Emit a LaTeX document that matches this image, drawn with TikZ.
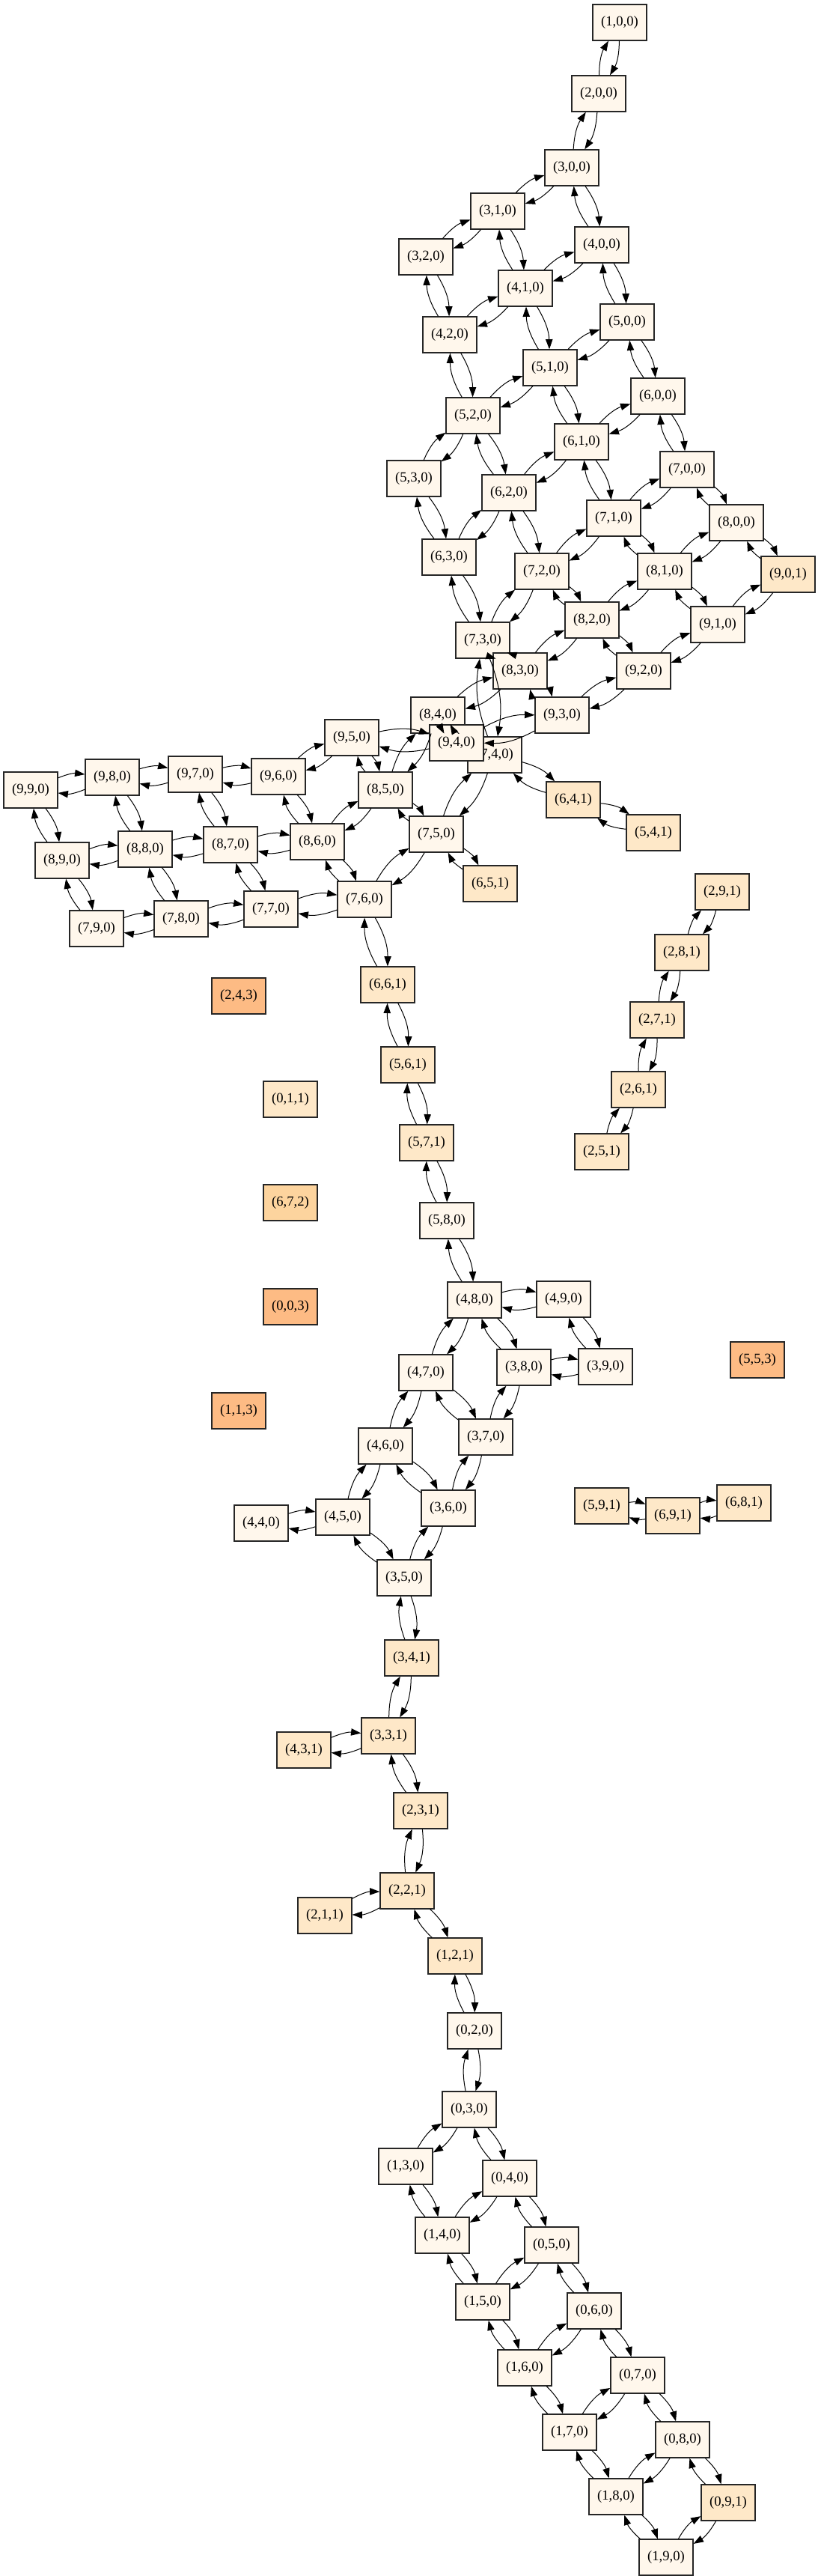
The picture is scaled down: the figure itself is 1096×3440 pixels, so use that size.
\documentclass[tikz,border=0pt]{standalone}
\usepackage{fontspec}
\setmainfont{Liberation Serif}
\usetikzlibrary{arrows.meta}
\definecolor{orA}{HTML}{FFF7EC}
\definecolor{orB}{HTML}{FEE8C8}
\definecolor{orC}{HTML}{FDD49E}
\definecolor{orD}{HTML}{FDBB84}
\tikzset{
  box/.style={draw=black!85, line width=0.9pt, rectangle, minimum width=54pt, minimum height=36pt, inner sep=0pt, font=\fontsize{14pt}{16pt}\selectfont},
  st0/.style={box, fill=orA},
  st1/.style={box, fill=orB},
  st2/.style={box, fill=orC},
  st3/.style={box, fill=orD},
  edge/.style={-{Triangle[length=10pt,width=7pt]}, line width=0.75pt, bend left=15}
}
\newcommand\biedge[2]{\draw[edge] (#1) to (#2); \draw[edge] (#2) to (#1);}
\begin{document}
\begin{tikzpicture}[x=0.75pt,y=-0.75pt]
\useasboundingbox (0,0) rectangle (1096,3440);
% top cluster
\node[st0] (n100) at (828,30) {(1,0,0)};
\node[st0] (n200) at (800,125) {(2,0,0)};
\node[st0] (n300) at (764,224) {(3,0,0)};
\node[st0] (n310) at (665,282) {(3,1,0)};
\node[st0] (n320) at (569,343) {(3,2,0)};
\node[st0] (n400) at (804,327) {(4,0,0)};
\node[st0] (n410) at (702,385) {(4,1,0)};
\node[st0] (n420) at (601,447) {(4,2,0)};
\node[st0] (n500) at (838,430) {(5,0,0)};
\node[st0] (n510) at (735,491) {(5,1,0)};
\node[st0] (n520) at (632,555) {(5,2,0)};
\node[st0] (n600) at (879,529) {(6,0,0)};
\node[st0] (n610) at (777,590) {(6,1,0)};
\node[st0] (n530) at (553,639) {(5,3,0)};
\node[st0] (n620) at (680,658) {(6,2,0)};
\node[st0] (n700) at (918,627) {(7,0,0)};
\node[st0] (n710) at (820,692) {(7,1,0)};
\node[st0] (n800) at (984,698) {(8,0,0)};
\node[st0] (n630) at (600,744) {(6,3,0)};
\node[st0] (n720) at (724,763) {(7,2,0)};
\node[st0] (n810) at (888,763) {(8,1,0)};
\node[st1] (n901) at (1053,767) {(9,0,1)};
\node[st0] (n820) at (791,828) {(8,2,0)};
\node[st0] (n910) at (959,834) {(9,1,0)};
\node[st0] (n730) at (645,855) {(7,3,0)};
\node[st0] (n830) at (695,896) {(8,3,0)};
\node[st0] (n920) at (860,896) {(9,2,0)};
\node[st0] (n930) at (751,955) {(9,3,0)};
\node[st0] (n840) at (585,955) {(8,4,0)};
\node[st0] (n740) at (661,1008) {(7,4,0)};
\node[st0] (n940) at (610,992) {(9,4,0)};
\node[st1] (n641) at (766,1068) {(6,4,1)};
\node[st1] (n541) at (873,1112) {(5,4,1)};
% left cluster
\node[st0] (n950) at (470,985) {(9,5,0)};
\node[st0] (n850) at (515,1055) {(8,5,0)};
\node[st0] (n750) at (583,1114) {(7,5,0)};
\node[st0] (n860) at (424,1124) {(8,6,0)};
\node[st1] (n651) at (655,1180) {(6,5,1)};
\node[st0] (n760) at (487,1201) {(7,6,0)};
\node[st0] (n990) at (41,1055) {(9,9,0)};
\node[st0] (n980) at (150,1038) {(9,8,0)};
\node[st0] (n970) at (261,1034) {(9,7,0)};
\node[st0] (n960) at (372,1037) {(9,6,0)};
\node[st0] (n890) at (83,1149) {(8,9,0)};
\node[st0] (n880) at (194,1134) {(8,8,0)};
\node[st0] (n870) at (308,1128) {(8,7,0)};
\node[st0] (n790) at (129,1240) {(7,9,0)};
\node[st0] (n780) at (242,1227) {(7,8,0)};
\node[st0] (n770) at (362,1214) {(7,7,0)};
% right chain
\node[st1] (n291) at (965,1191) {(2,9,1)};
\node[st1] (n281) at (911,1272) {(2,8,1)};
\node[st1] (n271) at (878,1362) {(2,7,1)};
\node[st1] (n261) at (853,1455) {(2,6,1)};
\node[st1] (n251) at (804,1538) {(2,5,1)};
% isolated
\node[st3] (n243) at (319,1330) {(2,4,3)};
\node[st1] (n011) at (388,1468) {(0,1,1)};
\node[st2] (n672) at (388,1606) {(6,7,2)};
\node[st3] (n003) at (388,1745) {(0,0,3)};
\node[st3] (n113) at (319,1884) {(1,1,3)};
\node[st3] (n553) at (1012,1816) {(5,5,3)};
% middle chain
\node[st1] (n661) at (518,1315) {(6,6,1)};
\node[st1] (n561) at (545,1422) {(5,6,1)};
\node[st1] (n571) at (570,1526) {(5,7,1)};
\node[st0] (n580) at (597,1630) {(5,8,0)};
\node[st0] (n480) at (634,1736) {(4,8,0)};
\node[st0] (n490) at (753,1735) {(4,9,0)};
\node[st0] (n470) at (569,1833) {(4,7,0)};
\node[st0] (n380) at (700,1826) {(3,8,0)};
\node[st0] (n390) at (809,1825) {(3,9,0)};
\node[st0] (n460) at (515,1931) {(4,6,0)};
\node[st0] (n370) at (649,1919) {(3,7,0)};
\node[st0] (n440) at (349,2034) {(4,4,0)};
\node[st0] (n450) at (458,2026) {(4,5,0)};
\node[st0] (n360) at (599,2014) {(3,6,0)};
\node[st1] (n591) at (804,2011) {(5,9,1)};
\node[st1] (n691) at (899,2024) {(6,9,1)};
\node[st1] (n681) at (994,2007) {(6,8,1)};
\node[st0] (n350) at (540,2107) {(3,5,0)};
\node[st1] (n341) at (550,2214) {(3,4,1)};
\node[st1] (n331) at (519,2318) {(3,3,1)};
\node[st1] (n431) at (406,2337) {(4,3,1)};
\node[st1] (n231) at (562,2418) {(2,3,1)};
\node[st1] (n221) at (544,2525) {(2,2,1)};
\node[st1] (n211) at (434,2558) {(2,1,1)};
\node[st1] (n121) at (608,2612) {(1,2,1)};
\node[st0] (n020) at (634,2712) {(0,2,0)};
% bottom cluster
\node[st0] (n030) at (627,2817) {(0,3,0)};
\node[st0] (n130) at (542,2893) {(1,3,0)};
\node[st0] (n040) at (681,2909) {(0,4,0)};
\node[st0] (n140) at (591,2985) {(1,4,0)};
\node[st0] (n050) at (737,2998) {(0,5,0)};
\node[st0] (n150) at (645,3074) {(1,5,0)};
\node[st0] (n060) at (794,3086) {(0,6,0)};
\node[st0] (n160) at (701,3162) {(1,6,0)};
\node[st0] (n070) at (852,3172) {(0,7,0)};
\node[st0] (n170) at (761,3248) {(1,7,0)};
\node[st0] (n080) at (912,3258) {(0,8,0)};
\node[st0] (n180) at (823,3334) {(1,8,0)};
\node[st1] (n091) at (973,3342) {(0,9,1)};
\node[st0] (n190) at (890,3415) {(1,9,0)};
% edges: top cluster
\biedge{n100}{n200}
\biedge{n200}{n300}
\biedge{n300}{n310}
\biedge{n300}{n400}
\biedge{n310}{n320}
\biedge{n310}{n410}
\biedge{n400}{n410}
\biedge{n400}{n500}
\biedge{n320}{n420}
\biedge{n410}{n420}
\biedge{n410}{n510}
\biedge{n500}{n510}
\biedge{n500}{n600}
\biedge{n420}{n520}
\biedge{n510}{n520}
\biedge{n510}{n610}
\biedge{n600}{n610}
\biedge{n600}{n700}
\biedge{n520}{n530}
\biedge{n520}{n620}
\biedge{n610}{n620}
\biedge{n610}{n710}
\biedge{n700}{n710}
\biedge{n700}{n800}
\biedge{n530}{n630}
\biedge{n620}{n630}
\biedge{n620}{n720}
\biedge{n710}{n720}
\biedge{n710}{n810}
\biedge{n800}{n810}
\biedge{n800}{n901}
\biedge{n630}{n730}
\biedge{n720}{n730}
\biedge{n720}{n820}
\biedge{n810}{n820}
\biedge{n810}{n910}
\biedge{n901}{n910}
\biedge{n730}{n830}
\biedge{n820}{n830}
\biedge{n820}{n920}
\biedge{n910}{n920}
\biedge{n730}{n740}
\biedge{n830}{n840}
\biedge{n830}{n930}
\biedge{n920}{n930}
\biedge{n840}{n940}
\biedge{n930}{n940}
\biedge{n740}{n641}
\biedge{n641}{n541}
% left cluster
\biedge{n940}{n950}
\biedge{n840}{n850}
\biedge{n740}{n750}
\biedge{n950}{n850}
\biedge{n850}{n750}
\biedge{n950}{n960}
\biedge{n960}{n970}
\biedge{n970}{n980}
\biedge{n980}{n990}
\biedge{n990}{n890}
\biedge{n980}{n880}
\biedge{n970}{n870}
\biedge{n960}{n860}
\biedge{n850}{n860}
\biedge{n860}{n870}
\biedge{n870}{n880}
\biedge{n880}{n890}
\biedge{n890}{n790}
\biedge{n880}{n780}
\biedge{n870}{n770}
\biedge{n860}{n760}
\biedge{n750}{n760}
\biedge{n760}{n770}
\biedge{n770}{n780}
\biedge{n780}{n790}
\biedge{n750}{n651}
\biedge{n760}{n661}
% right chain
\biedge{n291}{n281}
\biedge{n281}{n271}
\biedge{n271}{n261}
\biedge{n261}{n251}
\biedge{n591}{n691}
\biedge{n691}{n681}
% middle chain
\biedge{n661}{n561}
\biedge{n561}{n571}
\biedge{n571}{n580}
\biedge{n580}{n480}
\biedge{n480}{n490}
\biedge{n480}{n470}
\biedge{n480}{n380}
\biedge{n490}{n390}
\biedge{n380}{n390}
\biedge{n470}{n460}
\biedge{n470}{n370}
\biedge{n380}{n370}
\biedge{n460}{n450}
\biedge{n460}{n360}
\biedge{n370}{n360}
\biedge{n450}{n440}
\biedge{n450}{n350}
\biedge{n360}{n350}
\biedge{n350}{n341}
\biedge{n341}{n331}
\biedge{n331}{n431}
\biedge{n331}{n231}
\biedge{n231}{n221}
\biedge{n221}{n211}
\biedge{n221}{n121}
\biedge{n121}{n020}
\biedge{n020}{n030}
% bottom cluster
\biedge{n030}{n130}
\biedge{n030}{n040}
\biedge{n130}{n140}
\biedge{n040}{n140}
\biedge{n040}{n050}
\biedge{n140}{n150}
\biedge{n050}{n150}
\biedge{n050}{n060}
\biedge{n150}{n160}
\biedge{n060}{n160}
\biedge{n060}{n070}
\biedge{n160}{n170}
\biedge{n070}{n170}
\biedge{n070}{n080}
\biedge{n170}{n180}
\biedge{n080}{n180}
\biedge{n080}{n091}
\biedge{n180}{n190}
\biedge{n091}{n190}
\end{tikzpicture}
\end{document}
